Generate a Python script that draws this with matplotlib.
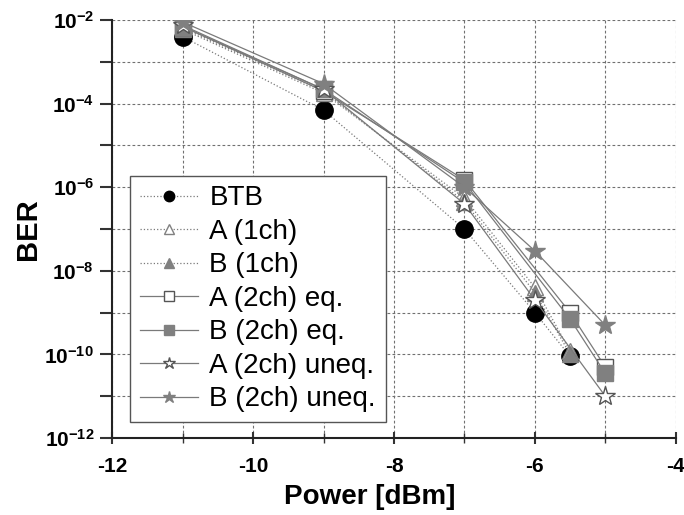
import numpy as np
import matplotlib
matplotlib.use("Agg")
from matplotlib import pyplot as plt
from matplotlib.ticker import FixedLocator, NullFormatter

plt.rcParams['font.family'] = ['Liberation Sans', 'DejaVu Sans']
plt.rcParams['mathtext.fontset'] = 'custom'
plt.rcParams['mathtext.rm'] = 'Liberation Sans:bold'
plt.rcParams['mathtext.bf'] = 'Liberation Sans:bold'

# data
x_1ch = [-11, -9, -7, -6, -5.5]
x_eq = [-11, -9, -7, -5.5, -5]
x_uneq = [-11, -9, -7, -6, -5]

btb = [4e-3, 7e-5, 1e-7, 1e-9, 9e-11]
a_1ch = [6e-3, 1.8e-4, 5.5e-7, 4e-9, 1.2e-10]
b_1ch = [6.5e-3, 2e-4, 4.5e-7, 3e-9, 1e-10]
a_2ch_eq = [7e-3, 2e-4, 1.5e-6, 1e-9, 5e-11]
b_2ch_eq = [7e-3, 2.2e-4, 1.3e-6, 7e-10, 3.5e-11]
a_2ch_uneq = [7.5e-3, 2.2e-4, 4e-7, 2e-9, 1e-11]
b_2ch_uneq = [9e-3, 3e-4, 1e-6, 3e-8, 5e-10]

labels = ["BTB", "A (1ch)", "B (1ch)", "A (2ch) eq.", "B (2ch) eq.",
          "A (2ch) uneq.", "B (2ch) uneq."]
y_major = [1e-12, 1e-10, 1e-8, 1e-6, 1e-4, 1e-2]
y_major_labels = [r'$\mathbf{10^{-12}}$', r'$\mathbf{10^{-10}}$', r'$\mathbf{10^{-8}}$',
                  r'$\mathbf{10^{-6}}$', r'$\mathbf{10^{-4}}$', r'$\mathbf{10^{-2}}$']
y_minor = [1e-11, 1e-9, 1e-7, 1e-5, 1e-3]
x_major = [-12, -10, -8, -6, -4]
x_minor = [-11, -9, -7, -5]

gray = '#808080'
line_gray = '#7a7a7a'


def main():
    fig = plt.figure(figsize=(6.84, 5.15), dpi=100)
    ax = fig.add_axes([0.164, 0.1495, 0.824, 0.8115])

    series = [
        (x_1ch, btb, ':', 'o', 'black', 'black', 12.5),
        (x_1ch, a_1ch, ':', '^', 'white', gray, 12),
        (x_1ch, b_1ch, ':', '^', gray, gray, 12),
        (x_eq, a_2ch_eq, '-', 's', 'white', '#555555', 11),
        (x_eq, b_2ch_eq, '-', 's', gray, gray, 11),
        (x_uneq, a_2ch_uneq, '-', '*', 'white', '#555555', 15),
        (x_uneq, b_2ch_uneq, '-', '*', gray, gray, 15),
    ]
    for (xs, ys, ls, mk, fc, ec, ms), lab in zip(series, labels):
        ax.plot(xs, ys, linestyle=ls, color=line_gray, linewidth=0.9,
                marker=mk, markerfacecolor=fc, markeredgecolor=ec,
                markersize=ms, markeredgewidth=1.0, label=lab, zorder=3)

    ax.set_yscale('log')
    ax.set_xlim(-12, -4)
    ax.set_ylim(1e-12, 1e-2)
    ax.yaxis.set_major_locator(FixedLocator(y_major))
    ax.set_yticklabels(y_major_labels)
    ax.yaxis.set_minor_locator(FixedLocator(y_minor))
    ax.yaxis.set_minor_formatter(NullFormatter())
    ax.set_xticks(x_major)
    ax.set_xticklabels([str(v) for v in x_major], fontweight='bold')
    ax.set_xticks(x_minor, minor=True)

    ax.tick_params(axis='both', which='major', labelsize=15, width=1.5,
                   length=9, color='#333333')
    ax.tick_params(axis='y', which='both', direction='out', pad=4)
    ax.tick_params(axis='y', which='minor', length=9, width=1.5, color='#333333')
    ax.tick_params(axis='x', which='both', direction='inout', pad=9)
    ax.tick_params(axis='x', which='minor', length=7, width=1.0, color='#333333')

    ax.grid(True, which='both', linestyle=(0, (2.5, 2)), color='#707070', linewidth=0.8)
    ax.set_axisbelow(True)
    for s in ['top', 'right']:
        ax.spines[s].set_visible(False)
    for s in ['left', 'bottom']:
        ax.spines[s].set_linewidth(1.5)
        ax.spines[s].set_color('#222222')

    ax.set_xlabel('Power [dBm]', fontsize=20, fontweight='bold')
    ax.xaxis.set_label_coords(0.457, -0.11)
    ax.set_ylabel('BER', fontsize=21, fontweight='bold', labelpad=2)

    leg = ax.legend(loc='lower left', bbox_to_anchor=(0.032, 0.038),
                    borderaxespad=0, fontsize=20, frameon=True, fancybox=False,
                    framealpha=1, edgecolor='#555555', markerscale=0.6,
                    handlelength=2.1, labelspacing=0.27, handletextpad=0.4,
                    borderpad=0.35)
    leg.get_frame().set_linewidth(1.0)

    fig.savefig('out.png', dpi=100)


if __name__ == '__main__':
    main()
